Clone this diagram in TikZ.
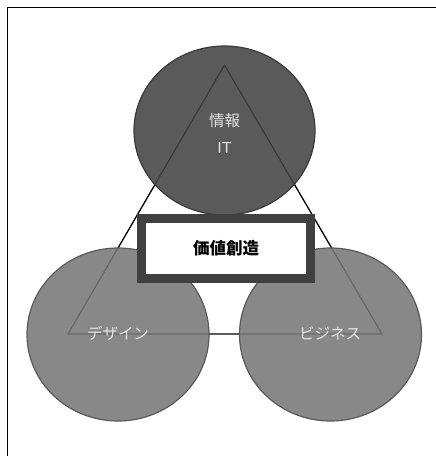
\documentclass[tikz,border=0pt]{standalone}
\usepackage{fontspec}
\newfontfamily\cjk{Noto Sans CJK JP}
\newfontfamily\latinsans{Liberation Sans}
\usetikzlibrary{shapes.geometric}
\begin{document}
\begin{tikzpicture}[x=1pt,y=-1pt,
  topcirc/.style={ellipse,draw={rgb,255:red,58;green,58;blue,58},line width=1.2pt,fill={rgb,255:red,68;green,68;blue,68},fill opacity=0.88,inner sep=0,minimum width=181pt,minimum height=169pt},
  botcirc/.style={ellipse,draw={rgb,255:red,90;green,90;blue,90},line width=1.2pt,fill={rgb,255:red,120;green,120;blue,120},fill opacity=0.88,inner sep=0,minimum width=182pt,minimum height=173pt},
  lbl/.style={text={rgb,255:red,228;green,228;blue,228},font=\cjk\fontsize{15.5}{18}\selectfont,inner sep=0},
  valbox/.style={draw={rgb,255:red,64;green,64;blue,64},line width=9pt,fill=white,minimum width=169pt,minimum height=60pt,inner sep=0,font=\cjk\bfseries\fontsize{16.5}{19}\selectfont}
]
\useasboundingbox (0,0) rectangle (436,456);
\fill[white] (0,0) rectangle (436,456);
\coordinate (fl) at (7.5,456);
\coordinate (fc) at (7.5,7.5);
\coordinate (fr) at (436,7.5);
\draw[line width=1.8pt] (fl) -- (fc) -- (fr);
% triangle
\coordinate (A) at (224.5,65);
\coordinate (B) at (68,334);
\coordinate (C) at (382,334);
\draw[line width=1.3pt,line join=miter] (A) -- (B) -- (C) -- cycle;
% circles
\node[topcirc] (info) at (224.5,130.5) {};
\node[botcirc] (design) at (118,334.5) {};
\node[botcirc] (biz) at (330.5,334.5) {};
% labels
\node[lbl] (t1) at (224.5,121) {情報};
\node[lbl,font=\latinsans\fontsize{16}{18}\selectfont] (t2) at (224.5,148) {IT};
\node[lbl] (t3) at (118,333) {デザイン};
\node[lbl] (t4) at (330,333) {ビジネス};
% center box
\node[valbox] (val) at (226,248.5) {価値創造};
\end{tikzpicture}
\end{document}
